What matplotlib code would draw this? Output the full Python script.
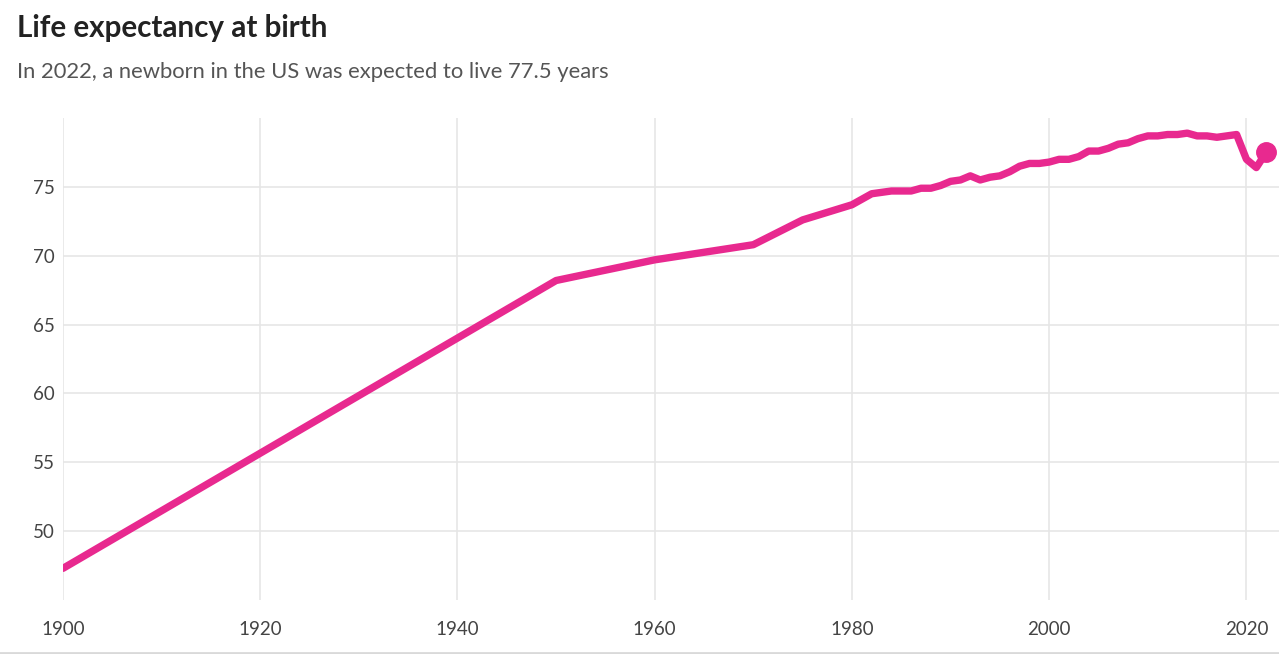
import matplotlib.pyplot as plt
from matplotlib.lines import Line2D

# dados: expectativa de vida ao nascer, EUA
anos = [1900, 1950, 1960, 1970, 1975, 1980, 1981, 1982, 1983, 1984, 1985, 1986,
        1987, 1988, 1989, 1990, 1991, 1992, 1993, 1994, 1995, 1996, 1997, 1998,
        1999, 2000, 2001, 2002, 2003, 2004, 2005, 2006, 2007, 2008, 2009, 2010,
        2011, 2012, 2013, 2014, 2015, 2016, 2017, 2018, 2019, 2020, 2021, 2022]
valores = [47.3, 68.2, 69.7, 70.8, 72.6, 73.7, 74.1, 74.5, 74.6, 74.7, 74.7, 74.7,
           74.9, 74.9, 75.1, 75.4, 75.5, 75.8, 75.5, 75.7, 75.8, 76.1, 76.5, 76.7,
           76.7, 76.8, 77.0, 77.0, 77.2, 77.6, 77.6, 77.8, 78.1, 78.2, 78.5, 78.7,
           78.7, 78.8, 78.8, 78.9, 78.7, 78.7, 78.6, 78.7, 78.8, 77.0, 76.4, 77.5]

x_ticks = [1900, 1920, 1940, 1960, 1980, 2000, 2020]
y_ticks = [50, 55, 60, 65, 70, 75]

plt.rcParams['font.family'] = ['Lato', 'DejaVu Sans']

fig = plt.figure(figsize=(12.79, 6.54), dpi=100)
ax = fig.add_axes([63/1279, 54/654, (1279-63)/1279, (600-118)/654])

cor = '#E8298F'
ax.plot(anos, valores, color=cor, linewidth=5.3, solid_capstyle='round', solid_joinstyle='round', zorder=3)
ax.plot(anos[-1], valores[-1], 'o', color=cor, markersize=14, zorder=4)

ax.set_xlim(1900, 2023.3)
ax.set_ylim(45, 80)
ax.set_xticks(x_ticks)
ax.set_yticks(y_ticks)
ax.grid(True, color='#e6e6e6', linewidth=1.2)
ax.set_axisbelow(True)
for s in ax.spines.values():
    s.set_visible(False)
ax.tick_params(length=0, labelsize=13.5, labelcolor='#444444')
ax.tick_params(axis='x', pad=15)
ax.tick_params(axis='y', pad=6)

fig.text(17/1279, 1 - 28/654, 'Life expectancy at birth', fontsize=21.3, fontweight='bold',
         color='#222222', va='center', ha='left')
fig.text(17/1279, 1 - 72/654, 'In 2022, a newborn in the US was expected to live 77.5 years',
         fontsize=15.8, color='#555555', va='center', ha='left')

# linha cinza no rodapé
fig.add_artist(Line2D([0, 1], [1/654, 1/654], color='#d9d9d9', linewidth=2, transform=fig.transFigure))

fig.savefig('out.png', dpi=100)
